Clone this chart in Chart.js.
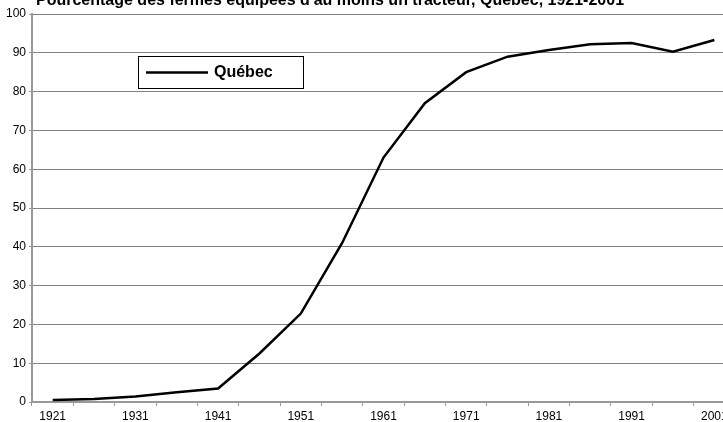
<!DOCTYPE html>
<html>
<head>
<meta charset="utf-8">
<script src="https://cdn.jsdelivr.net/npm/chart.js@4"></script>
<style>
  html, body { margin: 0; padding: 0; background: #fff; }
  /* the plot runs past the right edge in the original, so the canvas is wider than the window */
  .wrap { width: 723px; height: 422px; overflow: hidden; position: relative; }
  .inner { width: 736px; height: 422px; }
</style>
</head>
<body>
<div class="wrap"><div class="inner"><canvas id="farm-chart"></canvas></div></div>
<script>
// years (one point every 5 years)
const years = ['1921','1926','1931','1936','1941','1946','1951','1956','1961','1966','1971','1976','1981','1986','1991','1996','2001'];

// % of farms with at least one tractor
const quebecValues = [0.5, 0.8, 1.4, 2.5, 3.5, 12.5, 22.8, 41, 63, 77, 85, 89, 90.7, 92.2, 92.5, 90.3, 93.3];

const chartTitle = "Pourcentage des fermes équipées d'au moins un tracteur, Québec, 1921-2001";
const seriesLabel = 'Québec';

const FONT = '"Liberation Sans", Arial, sans-serif';

// title drawn at the very top, partly cut off like the original
const titlePlugin = {
    id: 'topTitle',
    afterDraw(chart) {
        const ctx = chart.ctx;
        ctx.save();
        ctx.font = 'bold 16px ' + FONT;
        ctx.fillStyle = '#000';
        ctx.textBaseline = 'alphabetic';
        ctx.fillText(chartTitle, 36, 5);
        ctx.restore();
    }
};

// boxed legend inside the plot
const boxLegend = {
    id: 'boxLegend',
    afterDraw(chart) {
        const ctx = chart.ctx;
        const ds = chart.data.datasets[0];
        ctx.save();
        ctx.fillStyle = '#fff';
        ctx.fillRect(138, 56, 165, 32);
        ctx.strokeStyle = '#000';
        ctx.lineWidth = 1;
        ctx.strokeRect(138.5, 56.5, 165, 32);
        ctx.strokeStyle = ds.borderColor;
        ctx.lineWidth = 2.5;
        ctx.beginPath();
        ctx.moveTo(146, 72.5);
        ctx.lineTo(208, 72.5);
        ctx.stroke();
        ctx.font = 'bold 16px ' + FONT;
        ctx.fillStyle = '#000';
        ctx.textBaseline = 'middle';
        ctx.fillText(ds.label, 214, 72.5);
        ctx.restore();
    }
};

let lineChart = new Chart(document.getElementById('farm-chart'), {
    type: 'line',
    data: {
        labels: years,
        datasets: [{
            label: seriesLabel,
            data: quebecValues,
            borderColor: '#000',
            borderWidth: 2.5,
            pointRadius: 0,
            tension: 0,
            fill: false
        }]
    },
    options: {
        responsive: true,
        maintainAspectRatio: false,
        animation: false,
        layout: { padding: { top: 14, right: 1, left: 0, bottom: 0 } },
        plugins: {
            legend: { display: false },
            tooltip: { enabled: false }
        },
        scales: {
            x: {
                type: 'category',
                offset: true,
                grid: {
                    offset: true,
                    drawOnChartArea: false,
                    drawTicks: true,
                    tickLength: 4,
                    color: '#999'
                },
                border: { color: '#999', width: 2 },
                ticks: {
                    autoSkip: false,
                    maxRotation: 0,
                    padding: 3,
                    color: '#000',
                    font: { family: FONT, size: 12 },
                    // only every other year is labelled
                    callback: (v, i) => i % 2 === 0 ? years[i] : ''
                },
                afterFit: s => { s.height = 20; }
            },
            y: {
                min: 0,
                max: 100,
                ticks: {
                    stepSize: 10,
                    padding: 3,
                    color: '#000',
                    font: { family: FONT, size: 12 }
                },
                grid: {
                    color: '#808080',
                    lineWidth: 1,
                    tickLength: 3,
                    tickColor: '#999'
                },
                border: { color: '#999', width: 2 },
                afterFit: s => { s.width = 32; }
            }
        }
    },
    plugins: [titlePlugin, boxLegend]
});
</script>
</body>
</html>
